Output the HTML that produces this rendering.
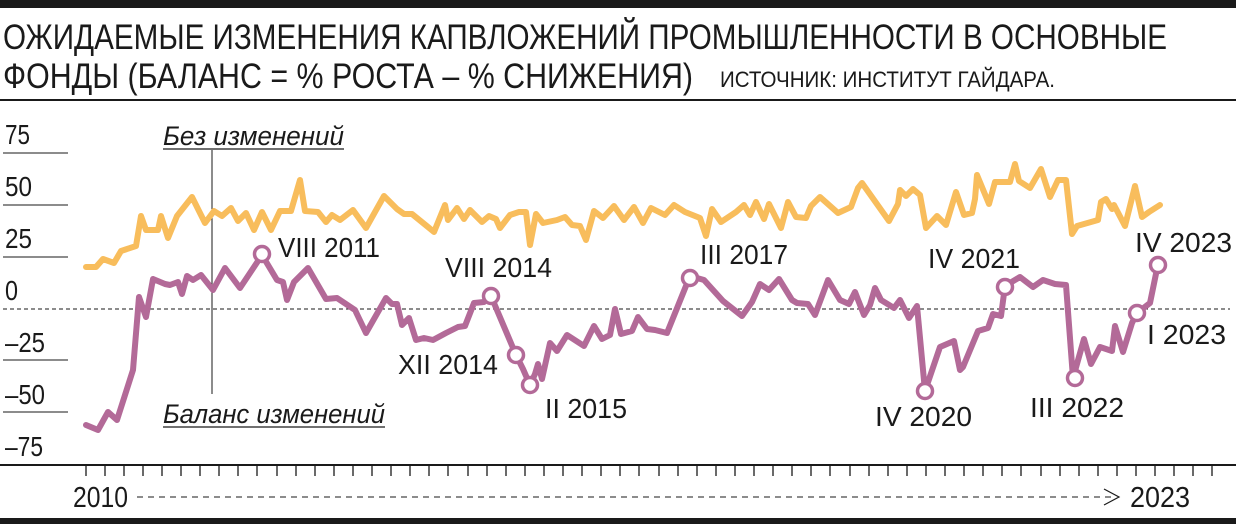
<!DOCTYPE html>
<html><head><meta charset="utf-8"><style>
html,body{margin:0;padding:0;background:#fff;}
svg{display:block;}
text{font-family:"Liberation Sans",sans-serif;fill:#1a1a1a;}
</style></head><body>
<svg width="1236" height="526" viewBox="0 0 1236 526" xmlns="http://www.w3.org/2000/svg">
<rect x="0" y="0" width="1236" height="8" fill="#1a1a1a"/>
<text x="3" y="49" font-size="35" textLength="1164" lengthAdjust="spacingAndGlyphs">ОЖИДАЕМЫЕ ИЗМЕНЕНИЯ КАПВЛОЖЕНИЙ ПРОМЫШЛЕННОСТИ В ОСНОВНЫЕ</text>
<text x="3" y="88" font-size="35" textLength="690" lengthAdjust="spacingAndGlyphs">ФОНДЫ (БАЛАНС = % РОСТА – % СНИЖЕНИЯ)</text>
<text x="720" y="87" font-size="22" textLength="335" lengthAdjust="spacingAndGlyphs">ИСТОЧНИК: ИНСТИТУТ ГАЙДАРА.</text>
<rect x="0" y="99" width="1236" height="2" fill="#1a1a1a"/>

<g font-size="28">
<text x="5" y="144" textLength="25" lengthAdjust="spacingAndGlyphs">75</text>
<text x="5" y="196" textLength="27" lengthAdjust="spacingAndGlyphs">50</text>
<text x="5" y="248" textLength="27" lengthAdjust="spacingAndGlyphs">25</text>
<text x="5" y="300" textLength="13" lengthAdjust="spacingAndGlyphs">0</text>
<text x="5" y="352" textLength="40" lengthAdjust="spacingAndGlyphs">–25</text>
<text x="5" y="404" textLength="40" lengthAdjust="spacingAndGlyphs">–50</text>
<text x="5" y="456" textLength="38" lengthAdjust="spacingAndGlyphs">–75</text>
</g>
<g stroke="#1a1a1a" stroke-width="1">
<line x1="3" y1="153" x2="68" y2="153"/>
<line x1="3" y1="205" x2="68" y2="205"/>
<line x1="3" y1="257" x2="68" y2="257"/>
<line x1="3" y1="360" x2="68" y2="360"/>
<line x1="3" y1="412" x2="68" y2="412"/>
<line x1="3" y1="309" x2="1230" y2="309" stroke-dasharray="4,3"/>
<line x1="212" y1="150" x2="212" y2="394"/>
</g>
<rect x="0" y="464" width="1236" height="2" fill="#1a1a1a"/>
<path stroke="#1a1a1a" stroke-width="1.3" fill="none" d="M86,465v11M105,465v11M124,465v11M143,465v11M162,465v11M181,465v11M200,465v11M219,465v11M238,465v11M257,465v11M277,465v11M296,465v11M315,465v11M334,465v11M353,465v11M372,465v11M391,465v11M410,465v11M429,465v11M448,465v11M468,465v11M487,465v11M506,465v11M525,465v11M544,465v11M563,465v11M582,465v11M601,465v11M620,465v11M639,465v11M659,465v11M678,465v11M697,465v11M716,465v11M735,465v11M754,465v11M773,465v11M792,465v11M811,465v11M830,465v11M850,465v11M869,465v11M888,465v11M907,465v11M926,465v11M945,465v11M964,465v11M983,465v11M1002,465v11M1021,465v11M1041,465v11M1060,465v11M1079,465v11M1098,465v11M1117,465v11M1136,465v11M1155,465v11M1174,465v11M1193,465v11M1212,465v11"/>
<text x="73" y="507" font-size="29" textLength="55" lengthAdjust="spacingAndGlyphs">2010</text>
<line x1="137" y1="497" x2="1116" y2="497" stroke="#1a1a1a" stroke-width="1" stroke-dasharray="6,5"/>
<polyline points="1104,489 1119,497 1104,505" fill="none" stroke="#1a1a1a" stroke-width="1.2"/>
<text x="1130" y="507" font-size="29" textLength="60" lengthAdjust="spacingAndGlyphs">2023</text>
<rect x="0" y="518" width="1236" height="6" fill="#1a1a1a"/>

<g font-size="27" font-style="italic">
<text x="163" y="145" textLength="181" lengthAdjust="spacingAndGlyphs">Без изменений</text>
<text x="163" y="423" textLength="222" lengthAdjust="spacingAndGlyphs">Баланс изменений</text>
</g>
<line x1="163" y1="149" x2="344" y2="149" stroke="#1a1a1a" stroke-width="1.3"/>
<line x1="163" y1="427" x2="385" y2="427" stroke="#1a1a1a" stroke-width="1.3"/>

<polyline fill="none" stroke="#f8bd5c" stroke-width="6" stroke-linejoin="round" stroke-linecap="round" points="86,267 96,267 103,259 114,263 121,251 136,246 141,216 146,230 158,230 161,216 168,238 177,216 192,197 205,223 214,211 222,216 231,208 238,221 246,213 254,230 262,212 271,230 280,211 291,211 300,180 305,211 318,212 326,222 332,215 340,220 353,210 366,228 384,196 397,209 404,214 412,214 428,227 434,232 445,205 448,220 457,208 464,219 470,210 482,222 489,216 496,219 500,228 510,215 519,212 526,212 530,245 536,214 543,223 557,220 565,217 572,225 580,226 586,240 594,211 603,218 614,206 624,220 634,207 643,223 651,208 665,215 674,205 685,212 700,218 706,236 712,209 721,222 736,212 744,205 750,215 756,202 764,219 769,204 777,220 781,228 788,202 796,217 806,218 811,206 820,197 838,213 851,207 858,188 862,183 889,221 898,204 900,190 906,196 913,189 920,195 926,228 937,216 946,225 956,192 964,215 972,213 975,199 977,175 989,204 995,182 1010,182 1015,164 1019,181 1030,188 1041,169 1050,197 1058,180 1066,180 1072,234 1077,226 1098,220 1101,202 1106,199 1112,209 1114,205 1125,226 1132,198 1135,186 1142,217 1149,212 1160,205"/>

<polyline fill="none" stroke="#b36a98" stroke-width="6" stroke-linejoin="round" stroke-linecap="round" points="86,425 98,430 108,412 117,420 133,370 139,297 146,317 153,279 165,284 170,285 178,282 182,294 187,276 193,280 201,275 213,290 225,268 240,288 262,255 277,280 283,282 287,300 294,282 308,268 326,299 337,298 355,310 366,333 386,298 392,304 397,304 402,325 409,318 416,340 424,338 433,340 446,333 458,327 465,326 474,303 484,302 491,296 516,355 523,369 530,385 535,374 538,364 542,379 550,343 557,351 567,335 584,346 594,326 602,339 610,335 615,309 621,334 632,331 638,317 647,329 655,330 667,333 690,276 704,280 723,301 742,316 752,302 760,284 769,290 779,279 792,300 797,303 808,304 815,315 828,280 840,300 849,304 855,292 864,315 870,305 875,288 881,300 894,308 900,300 909,318 917,306 925,391 940,347 954,341 960,370 963,367 978,331 988,328 993,314 1001,316 1005,286 1020,277 1033,287 1043,280 1055,284 1066,285 1073,378 1084,339 1091,364 1100,347 1112,351 1115,326 1123,352 1132,323 1137,313 1150,303 1158,264"/>

<g fill="#fff" stroke="#b36a98" stroke-width="3.5">
<circle cx="262" cy="254" r="7.5"/>
<circle cx="491" cy="296" r="7.5"/>
<circle cx="516" cy="355" r="7.5"/>
<circle cx="530" cy="385" r="7.5"/>
<circle cx="690" cy="278" r="7.5"/>
<circle cx="925" cy="391" r="7.5"/>
<circle cx="1005" cy="287" r="7.5"/>
<circle cx="1075" cy="378" r="7.5"/>
<circle cx="1137" cy="313" r="7.5"/>
<circle cx="1158" cy="265" r="7.5"/>
</g>

<g font-size="28">
<text x="278" y="257" textLength="102" lengthAdjust="spacingAndGlyphs">VIII 2011</text>
<text x="445" y="277" textLength="107" lengthAdjust="spacingAndGlyphs">VIII 2014</text>
<text x="398" y="374" textLength="100" lengthAdjust="spacingAndGlyphs">XII 2014</text>
<text x="545" y="418" textLength="82" lengthAdjust="spacingAndGlyphs">II 2015</text>
<text x="700" y="264" textLength="88" lengthAdjust="spacingAndGlyphs">III 2017</text>
<text x="928" y="268" textLength="92" lengthAdjust="spacingAndGlyphs">IV 2021</text>
<text x="875" y="426" textLength="97" lengthAdjust="spacingAndGlyphs">IV 2020</text>
<text x="1030" y="417" textLength="94" lengthAdjust="spacingAndGlyphs">III 2022</text>
<text x="1135" y="252" textLength="97" lengthAdjust="spacingAndGlyphs">IV 2023</text>
<text x="1147" y="344" textLength="79" lengthAdjust="spacingAndGlyphs">I 2023</text>
</g>
</svg>
</body></html>
